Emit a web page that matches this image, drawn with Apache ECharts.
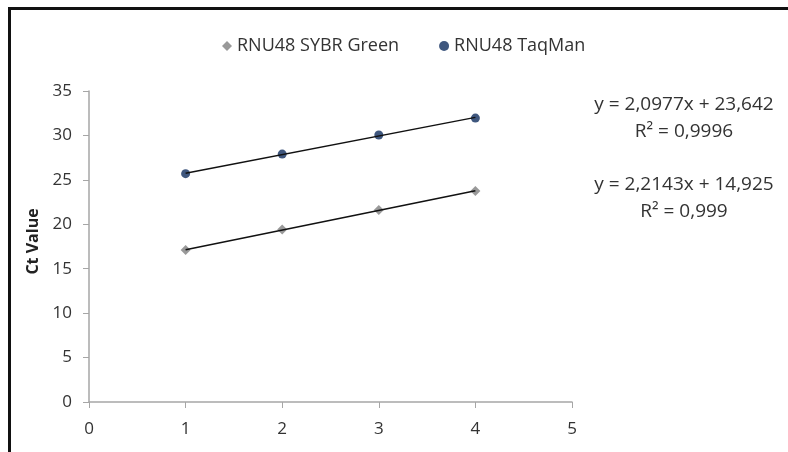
<!DOCTYPE html>
<html><head><meta charset="utf-8">
<script src="https://cdn.jsdelivr.net/npm/echarts@6/dist/echarts.min.js"></script>
<style>html,body{margin:0;padding:0;background:#fff}#c{width:788px;height:452px}</style>
</head><body><div id="c"></div>
<script>
var xValues = [1, 2, 3, 4];
var sybrValues = [17.1, 19.4, 21.6, 23.75];
var taqmanValues = [25.7, 27.9, 30.05, 31.95];
var seriesNames = ['RNU48 SYBR Green', 'RNU48 TaqMan'];
var trendSlopes = [2.2143, 2.0977];
var trendIntercepts = [14.925, 23.642];
var equationLabels = ['y = 2,2143x + 14,925', 'R² = 0,999', 'y = 2,0977x + 23,642', 'R² = 0,9996'];
var xTicks = [0, 1, 2, 3, 4, 5];
var yTicks = [0, 5, 10, 15, 20, 25, 30, 35];

function pts(ys) { return xValues.map(function (x, i) { return [x, ys[i]]; }); }
function trend(k) {
  var x0 = xValues[0], x1 = xValues[xValues.length - 1];
  return [[x0, trendSlopes[k] * x0 + trendIntercepts[k]], [x1, trendSlopes[k] * x1 + trendIntercepts[k]]];
}
var font = 'Open Sans';
var chart = echarts.init(document.getElementById('c'));
chart.setOption({
  animation: false,
  textStyle: { fontFamily: font },
  grid: { left: 89, right: 216, top: 91, bottom: 50 },
  legend: {
    top: 32, left: 217, itemGap: 40, itemWidth: 10, itemHeight: 10,
    textStyle: { fontSize: 18, color: '#333', fontFamily: font },
    data: [{ name: seriesNames[0], icon: 'diamond' }, { name: seriesNames[1], icon: 'circle' }]
  },
  xAxis: {
    type: 'value', min: xTicks[0], max: xTicks[xTicks.length - 1], interval: 1,
    axisLine: { lineStyle: { color: '#a6a6a6', width: 1.5 } },
    axisTick: { show: true, length: 6, lineStyle: { color: '#a6a6a6' } },
    axisLabel: { fontSize: 17, color: '#333', margin: 19 },
    splitLine: { show: false }
  },
  yAxis: {
    type: 'value', min: yTicks[0], max: yTicks[yTicks.length - 1], interval: 5,
    name: 'Ct Value', nameLocation: 'middle', nameGap: 44,
    nameTextStyle: { fontSize: 16, fontWeight: 'bold', color: '#222', padding: [0, 0, 0, 10] },
    axisLine: { show: true, onZero: false, lineStyle: { color: '#a6a6a6', width: 1.5 } },
    axisTick: { show: true, length: 6, lineStyle: { color: '#a6a6a6' } },
    axisLabel: { fontSize: 17, color: '#333', margin: 17 },
    splitLine: { show: false }
  },
  series: [
    { name: seriesNames[0], type: 'scatter', symbol: 'diamond', symbolSize: 10,
      itemStyle: { color: '#7f7f7f' }, data: pts(sybrValues), z: 2 },
    { name: seriesNames[1], type: 'scatter', symbol: 'circle', symbolSize: 9,
      itemStyle: { color: '#0f2d5e' }, data: pts(taqmanValues), z: 2 },
    { type: 'line', data: trend(0), symbol: 'none', silent: true, z: 3,
      lineStyle: { color: '#111', width: 1.5 } },
    { type: 'line', data: trend(1), symbol: 'none', silent: true, z: 3,
      lineStyle: { color: '#111', width: 1.5 } }
  ],
  graphic: [
    { type: 'line', shape: { x1: 9.5, y1: 8.5, x2: 788, y2: 8.5 }, style: { stroke: '#111', lineWidth: 3 } },
    { type: 'line', shape: { x1: 9.5, y1: 7, x2: 9.5, y2: 452 }, style: { stroke: '#111', lineWidth: 3 } },
    { type: 'text', x: 684, y: 105, style: { text: equationLabels[2], font: '19px ' + font, fill: '#333', align: 'center', verticalAlign: 'middle' } },
    { type: 'text', x: 684, y: 132, style: { text: equationLabels[3], font: '19px ' + font, fill: '#333', align: 'center', verticalAlign: 'middle' } },
    { type: 'text', x: 684, y: 185, style: { text: equationLabels[0], font: '19px ' + font, fill: '#333', align: 'center', verticalAlign: 'middle' } },
    { type: 'text', x: 684, y: 212, style: { text: equationLabels[1], font: '19px ' + font, fill: '#333', align: 'center', verticalAlign: 'middle' } }
  ]
});
</script></body></html>
